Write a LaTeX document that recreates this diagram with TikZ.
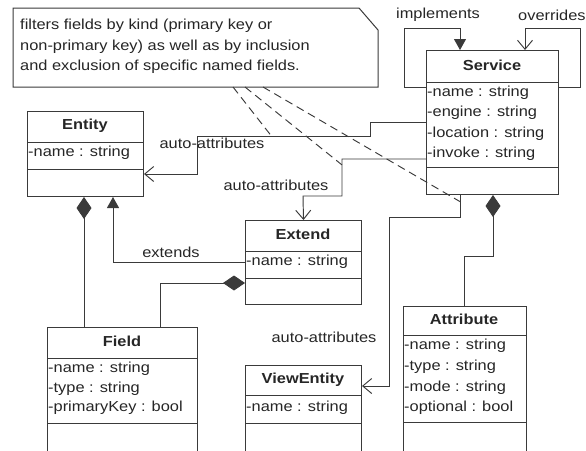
\documentclass[tikz,border=0pt]{standalone}
\usepackage{fontspec}
\setmainfont{Liberation Sans}[FakeStretch=1.13]
\usetikzlibrary{arrows.meta}
\definecolor{ln}{HTML}{3A3A3A}
\definecolor{tx}{HTML}{262626}
\begin{document}
\begin{tikzpicture}[x=1pt,y=-1pt,
  every node/.style={font=\fontsize{14.5}{20}\selectfont, text=tx, inner sep=0pt},
  classbox/.style={draw=ln, line width=1pt, minimum width=#1, inner sep=0pt, anchor=north west},
  sep/.style={draw=ln, line width=1pt},
  conn/.style={draw=ln, line width=0.95pt},
  ttl/.style={font=\fontsize{14.5}{20}\selectfont\bfseries},
  att/.style={anchor=west},
  lbl/.style={},
  opena/.style={-{Straight Barb[length=9pt,width=15pt,line width=0.95pt]}},
  trian/.style={-{Triangle[length=11pt,width=12pt]}},
  diam/.style={{Diamond[length=22pt,width=15pt]}-},
  dsh/.style={draw=ln, line width=0.95pt, dash pattern=on 8pt off 5pt}
]
\useasboundingbox (0,0) rectangle (586,450);
% note
\draw[ln, line width=1pt, fill=white] (13,8) -- (359,8) -- (378,30) -- (378,87) -- (13,87) -- cycle;
\node[att] (n1) at (20,26) {filters fields by kind (primary key or};
\node[att] (n2) at (20,47) {non-primary key) as well as by inclusion};
\node[att] (n3) at (20,67) {and exclusion of specific named fields.};
\coordinate (nd1) at (233,87);
\coordinate (nd2) at (245,87);
\coordinate (nd3) at (263,87);

% Service
\node[classbox=132pt, minimum height=144pt] (service) at (426,50) {};
\draw[sep] (426,82) -- (558,82) (426,167) -- (558,167);
\node[ttl] (serviceT) at (492,65) {Service};
\node[att] (s1) at (427,93) {-name : string};
\node[att] (s2) at (427,113) {-engine : string};
\node[att] (s3) at (427,134) {-location : string};
\node[att] (s4) at (427,154) {-invoke : string};

% Entity
\node[classbox=116pt, minimum height=85pt] (entity) at (27,111) {};
\draw[sep] (27,142) -- (143,142) (27,169) -- (143,169);
\node[ttl] (entityT) at (85,126) {Entity};
\node[att] (e1) at (28,153) {-name : string};

% Extend
\node[classbox=116pt, minimum height=84pt] (extend) at (245,220) {};
\draw[sep] (245,251) -- (361,251) (245,278) -- (361,278);
\node[ttl] (extendT) at (303,234) {Extend};
\node[att] (x1) at (246,262) {-name : string};

% Field
\node[classbox=150pt, minimum height=130pt] (field) at (47,327) {};
\draw[sep] (47,358) -- (197,358) (47,423) -- (197,423);
\node[ttl] (fieldT) at (122,341) {Field};
\node[att] (f1) at (48,369) {-name : string};
\node[att] (f2) at (48,389) {-type : string};
\node[att] (f3) at (48,408) {-primaryKey : bool};

% ViewEntity
\node[classbox=116pt, minimum height=92pt] (view) at (245,365) {};
\draw[sep] (245,395) -- (361,395) (245,423) -- (361,423);
\node[ttl] (viewT) at (303,380) {ViewEntity};
\node[att] (v1) at (246,408) {-name : string};

% Attribute
\node[classbox=123pt, minimum height=151pt] (attr) at (403,306) {};
\draw[sep] (403,335) -- (526,335) (403,422) -- (526,422);
\node[ttl] (attrT) at (464,319) {Attribute};
\node[att] (a1) at (404,346) {-name : string};
\node[att] (a2) at (404,367) {-type : string};
\node[att] (a3) at (404,388) {-mode : string};
\node[att] (a4) at (404,408) {-optional : bool};

% implements / overrides
\draw[conn, trian] (service.west |- 0,87) -- (404,87) -- (404,28) -- (460,28) -- (service.north -| 460,0);
\node[lbl] (limpl) at (438,15) {implements};
\draw[conn, opena] (service.east |- 0,87) -- (580,87) -- (580,28) -- (525,28) -- (service.north -| 525,0);
\node[att] (lover) at (518,15) {overrides};

% auto-attributes 1
\draw[conn, opena] (service.west |- 0,122) -- (370,122) -- (370,136) -- coordinate[pos=0.57] (c1) (197,136) -- (197,174) -- (entity.east |- 0,174);
\node[lbl] (la1) at (212,143) {auto-attributes};
% auto-attributes 2
\draw[conn, opena] (service.west |- 0,159) -- (342,159) -- coordinate[pos=0.16] (c2) (342,196) -- (303,196) -- (extend.north);
\node[lbl] (la2) at (276,185) {auto-attributes};
% auto-attributes 3
\draw[conn, opena] (service.south -| 460,0) -- coordinate[pos=0.3] (c3) (460,217) -- (389,217) -- (389,386) -- (view.east |- 0,386);
\node[lbl] (la3) at (324,337) {auto-attributes};

% extends
\draw[conn, trian] (extend.west |- 0,262) -- (113,262) -- (entity.south -| 113,0);
\node[lbl] (lext) at (171,252) {extends};

% compositions
\draw[conn, diam] (entity.south -| 84,0) -- (field.north -| 84,0);
\draw[conn, diam] (extend.west |- 0,283) -- (160,283) -- (field.north -| 160,0);
\draw[conn, diam] (service.south -| 493,0) -- (493,256) -- (464,256) -- (attr.north -| 464,0);

% dashed note links
\draw[dsh] (nd1) -- (c1);
\draw[dsh] (nd2) -- (c2);
\draw[dsh] (nd3) -- (c3);
\end{tikzpicture}
\end{document}
